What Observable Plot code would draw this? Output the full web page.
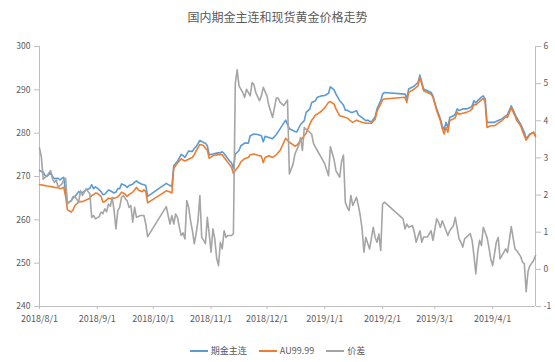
<!DOCTYPE html>
<html>
<head>
<meta charset="utf-8">
<script src="https://cdn.jsdelivr.net/npm/d3@7"></script>
<script src="https://cdn.jsdelivr.net/npm/@observablehq/plot@0.6"></script>
<style>
  html, body { margin: 0; padding: 0; background: #ffffff; }
  #wrap { width: 555px; height: 362px; position: relative; overflow: hidden; font-family: "Noto Sans CJK SC", sans-serif; }
  #title { height: 30px; box-sizing: border-box; padding-top: 9px; text-align: center; font-size: 12px; line-height: 16px; color: #595959; }
  #chart svg { display: block; }
  #legend { margin-top: 15px; height: 12px; display: flex; justify-content: center; align-items: center; font-size: 9px; line-height: 12px; color: #595959; }
  .item { display: flex; align-items: center; margin: 0 6px; }
  .sw { width: 18px; height: 2px; margin-right: 3px; }
</style>
</head>
<body>
<div id="wrap">
  <div id="title"></div>
  <div id="chart"></div>
  <div id="legend"></div>
</div>
<script>
const titleText = "国内期金主连和现货黄金价格走势";
const seriesNames = ["期金主连", "AU99.99", "价差"];
const seriesColors = ["#5B9BD5", "#ED7D31", "#A5A5A5"];

const monthTicks = ["2018-08-01","2018-09-01","2018-10-01","2018-11-01","2018-12-01","2019-01-01","2019-02-01","2019-03-01","2019-04-01"];
const leftTicks = [240, 250, 260, 270, 280, 290, 300];
const rightTicks = [-1, 0, 1, 2, 3, 4, 5, 6];
const xRange = ["2018-08-01", "2019-04-24"];

const priceDates = [
 "2018-08-01","2018-08-03","2018-08-04","2018-08-05","2018-08-07","2018-08-08","2018-08-09","2018-08-11","2018-08-12","2018-08-13","2018-08-14","2018-08-15","2018-08-16","2018-08-18","2018-08-19","2018-08-20","2018-08-22","2018-08-23","2018-08-24","2018-08-26","2018-08-28","2018-08-29","2018-08-30","2018-08-31",
 "2018-09-01","2018-09-03","2018-09-04","2018-09-05","2018-09-07","2018-09-08","2018-09-10","2018-09-11","2018-09-12","2018-09-13","2018-09-14","2018-09-16","2018-09-17","2018-09-18","2018-09-20","2018-09-21","2018-09-22","2018-09-23","2018-09-25","2018-09-26","2018-09-27","2018-09-28",
 "2018-10-08","2018-10-10","2018-10-11","2018-10-12","2018-10-14","2018-10-16","2018-10-17","2018-10-18","2018-10-20","2018-10-21","2018-10-22","2018-10-23","2018-10-24","2018-10-26","2018-10-27","2018-10-28","2018-10-29","2018-10-30","2018-10-31",
 "2018-11-02","2018-11-04","2018-11-06","2018-11-07","2018-11-08","2018-11-10","2018-11-12","2018-11-13","2018-11-14","2018-11-16","2018-11-17","2018-11-19","2018-11-21","2018-11-22","2018-11-24","2018-11-26","2018-11-28","2018-11-29","2018-11-30",
 "2018-12-02","2018-12-04","2018-12-06","2018-12-08","2018-12-11","2018-12-13","2018-12-16","2018-12-17","2018-12-19","2018-12-21","2018-12-22","2018-12-24","2018-12-25","2018-12-27","2018-12-28","2018-12-30",
 "2019-01-01","2019-01-03","2019-01-04","2019-01-06","2019-01-07","2019-01-09","2019-01-11","2019-01-12","2019-01-13","2019-01-15","2019-01-16","2019-01-18","2019-01-19","2019-01-21","2019-01-23","2019-01-24","2019-01-26","2019-01-28","2019-01-29","2019-01-31",
 "2019-02-01","2019-02-02","2019-02-13","2019-02-14","2019-02-15","2019-02-18","2019-02-20","2019-02-21","2019-02-23","2019-02-25","2019-02-27","2019-02-28",
 "2019-03-02","2019-03-04","2019-03-05","2019-03-06","2019-03-07","2019-03-08","2019-03-09","2019-03-11","2019-03-12","2019-03-13","2019-03-14","2019-03-16","2019-03-18","2019-03-20","2019-03-21","2019-03-22","2019-03-23","2019-03-24","2019-03-26","2019-03-27","2019-03-28","2019-03-29","2019-03-31",
 "2019-04-02","2019-04-04","2019-04-06","2019-04-08","2019-04-09","2019-04-11","2019-04-13","2019-04-14","2019-04-16","2019-04-18","2019-04-19","2019-04-21","2019-04-23","2019-04-24"
];

const futures = [
 271.4,271.0,270.2,270.0,270.9,270.0,269.5,269.6,269.2,269.6,269.8,266.2,263.9,264.4,265.0,265.4,266.5,266.2,266.3,266.9,267.3,268.1,267.2,267.6,
 267.3,266.5,265.8,265.9,266.9,266.7,266.2,266.4,267.2,267.2,268.3,267.9,267.5,267.9,268.2,268.7,269.0,268.6,268.2,268.1,267.9,265.4,
 268.4,267.9,267.7,272.5,273.5,275.1,274.8,274.4,275.9,275.8,275.8,276.5,276.9,278.3,278.1,277.8,277.7,277.1,275.0,
 275.2,275.4,275.5,275.7,275.3,274.1,273.1,271.8,275.2,276.0,277.1,277.7,277.7,279.4,279.8,279.7,279.4,278.0,279.3,
 279.0,278.7,279.7,281.0,283.0,281.0,280.4,280.3,282.0,282.9,284.8,285.6,287.1,287.5,288.3,288.6,
 288.7,289.2,290.7,290.0,289.0,287.5,286.5,285.3,285.3,284.8,284.8,285.2,284.2,283.6,282.9,283.0,282.6,283.8,285.6,287.5,
 289.0,289.4,289.0,288.0,290.2,290.9,291.7,293.4,290.2,289.8,289.4,288.6,
 285.6,283.3,281.7,280.8,282.5,281.3,283.6,284.0,284.4,285.6,285.2,285.6,285.6,285.9,286.3,287.5,287.0,287.5,288.3,288.6,287.9,282.5,282.5,
 282.5,282.9,283.3,284.0,284.3,286.3,284.4,283.5,282.1,280.2,278.7,279.8,280.2,279.4
];

const spot = [
 268.1,268.0,267.9,267.8,267.7,267.6,267.5,267.4,267.2,267.3,267.5,265.4,262.3,261.8,262.3,263.3,264.1,264.2,264.2,264.6,265.0,265.6,265.8,266.2,
 266.1,265.4,264.1,264.2,265.0,264.9,265.0,265.1,265.3,265.8,266.4,265.9,265.4,265.8,266.4,266.9,267.5,266.9,266.5,266.9,266.5,263.9,
 266.7,266.4,266.2,271.9,273.1,274.1,273.8,273.6,274.0,274.2,274.4,275.0,275.9,277.4,277.3,277.1,276.5,276.1,274.2,
 274.8,275.0,275.1,275.0,274.4,273.3,272.1,270.7,271.4,272.5,273.4,274.1,274.4,275.0,275.2,274.9,274.7,273.2,274.4,
 274.8,274.4,275.0,276.0,278.8,277.9,277.0,277.2,278.3,279.4,280.0,282.1,283.0,284.2,284.4,285.0,
 285.9,287.1,287.3,286.7,285.6,284.0,283.8,283.6,283.5,282.8,282.5,283.0,282.8,282.5,282.3,282.3,282.3,283.2,285.0,286.8,
 287.7,287.9,288.3,287.1,289.4,290.2,290.9,292.9,289.8,289.4,289.0,288.3,
 285.2,282.9,281.0,279.8,281.3,280.2,282.9,283.3,283.6,284.8,284.4,284.6,284.8,285.2,285.6,286.7,286.5,286.9,287.7,288.0,287.1,281.3,281.7,
 281.7,282.3,282.9,283.8,283.6,285.9,284.0,282.9,281.7,279.4,278.4,279.7,280.2,279.2
];

const spreadDates = [
 "2018-08-01","2018-08-02","2018-08-03","2018-08-05","2018-08-07","2018-08-08","2018-08-09","2018-08-10","2018-08-11","2018-08-13","2018-08-14","2018-08-15","2018-08-16","2018-08-18","2018-08-19","2018-08-20","2018-08-22","2018-08-23","2018-08-24","2018-08-25","2018-08-26","2018-08-27","2018-08-28","2018-08-29","2018-08-30","2018-08-31",
 "2018-09-02","2018-09-03","2018-09-04","2018-09-05","2018-09-06","2018-09-07","2018-09-08","2018-09-09","2018-09-10","2018-09-11","2018-09-12","2018-09-13","2018-09-14","2018-09-15","2018-09-16","2018-09-17","2018-09-18","2018-09-19","2018-09-20","2018-09-21","2018-09-22","2018-09-23","2018-09-24","2018-09-26","2018-09-27","2018-09-28",
 "2018-10-08","2018-10-10","2018-10-11","2018-10-12","2018-10-13","2018-10-14","2018-10-15","2018-10-16","2018-10-17","2018-10-18","2018-10-19","2018-10-20","2018-10-21","2018-10-22","2018-10-23","2018-10-24","2018-10-25","2018-10-26","2018-10-27","2018-10-28","2018-10-29","2018-10-30","2018-10-31",
 "2018-11-01","2018-11-02","2018-11-03","2018-11-04","2018-11-05","2018-11-06","2018-11-07","2018-11-08","2018-11-09","2018-11-10","2018-11-12","2018-11-13","2018-11-14","2018-11-15","2018-11-16","2018-11-18","2018-11-19","2018-11-20","2018-11-22","2018-11-23","2018-11-24","2018-11-25","2018-11-27","2018-11-28","2018-11-29",
 "2018-12-01","2018-12-02","2018-12-04","2018-12-06","2018-12-07","2018-12-08","2018-12-10","2018-12-12","2018-12-13","2018-12-15","2018-12-16","2018-12-18","2018-12-19","2018-12-20","2018-12-21","2018-12-22","2018-12-24","2018-12-25","2018-12-26","2018-12-28","2018-12-30",
 "2019-01-01","2019-01-03","2019-01-04","2019-01-06","2019-01-07","2019-01-09","2019-01-10","2019-01-11","2019-01-12","2019-01-13","2019-01-14","2019-01-15","2019-01-16","2019-01-18","2019-01-19","2019-01-20","2019-01-21","2019-01-22","2019-01-23","2019-01-25","2019-01-27","2019-01-28","2019-01-29","2019-01-30","2019-01-31",
 "2019-02-01","2019-02-02","2019-02-12","2019-02-13","2019-02-14","2019-02-15","2019-02-17","2019-02-18","2019-02-19","2019-02-21","2019-02-22","2019-02-23","2019-02-25","2019-02-27","2019-02-28",
 "2019-03-02","2019-03-03","2019-03-04","2019-03-05","2019-03-06","2019-03-08","2019-03-09","2019-03-11","2019-03-12","2019-03-14","2019-03-15","2019-03-16","2019-03-17","2019-03-18","2019-03-20","2019-03-21","2019-03-22","2019-03-23","2019-03-24","2019-03-25","2019-03-26","2019-03-27","2019-03-28","2019-03-29","2019-03-30","2019-03-31",
 "2019-04-01","2019-04-03","2019-04-04","2019-04-05","2019-04-06","2019-04-07","2019-04-08","2019-04-09","2019-04-11","2019-04-13","2019-04-14","2019-04-16","2019-04-17","2019-04-18","2019-04-19","2019-04-20","2019-04-21","2019-04-23","2019-04-24"
];

const spread = [
 3.27,3.02,2.43,2.52,2.66,2.43,2.34,2.41,2.21,2.30,2.41,2.45,1.76,1.85,1.96,1.96,1.81,2.12,1.99,2.07,2.17,2.10,2.03,1.40,1.45,1.36,
 1.42,1.54,1.50,1.63,1.55,1.76,1.70,1.94,1.58,1.09,1.58,1.67,1.94,1.99,1.90,1.85,1.67,1.72,1.27,1.67,1.40,1.42,1.45,1.45,1.22,0.88,
 1.69,1.22,1.45,1.22,1.49,1.40,1.13,0.91,0.98,0.82,1.85,1.67,1.31,1.04,0.69,0.96,1.31,1.99,0.86,0.78,0.69,1.40,0.96,
 0.46,1.09,0.82,0.30,0.10,0.73,0.55,1.04,0.86,0.91,0.91,0.96,5.00,5.37,4.94,4.76,4.63,4.85,4.67,5.03,4.97,4.76,4.54,4.67,4.90,
 4.67,4.41,4.09,4.61,4.61,4.50,4.41,4.56,2.57,2.84,3.11,3.33,3.55,3.20,3.82,3.77,3.69,3.63,3.38,3.20,3.02,
 2.84,2.52,3.30,2.95,2.65,2.48,2.90,3.08,1.81,1.67,1.58,1.99,1.72,1.94,1.72,1.45,1.09,0.46,0.86,0.55,1.13,0.86,0.73,0.95,0.51,
 1.76,1.81,1.36,1.09,1.22,1.13,1.18,1.00,0.73,1.04,0.73,0.87,0.87,1.04,0.78,
 1.36,1.27,1.13,1.31,1.18,0.91,1.04,1.18,1.40,0.82,0.73,0.60,0.82,0.87,0.96,0.78,0.37,-0.12,0.46,0.78,0.64,1.13,1.00,0.86,0.60,0.28,
 0.10,0.73,0.86,0.28,0.37,0.46,0.55,0.45,1.15,0.55,0.50,0.35,0.20,0.15,-0.60,-0.05,0.10,0.24,0.37
];

const parse = d3.utcParse("%Y-%m-%d");
const leftMin = leftTicks[0], leftMax = leftTicks[leftTicks.length - 1];
const rightMin = rightTicks[0], rightMax = rightTicks[rightTicks.length - 1];
// map secondary-axis values onto the primary y scale (dual axis)
const toLeft = v => leftMin + (v - rightMin) * (leftMax - leftMin) / (rightMax - rightMin);
const fromLeft = y => rightMin + (y - leftMin) * (rightMax - rightMin) / (leftMax - leftMin);

const priceRows = priceDates.map((d, i) => ({ date: parse(d), fut: futures[i], spot: spot[i] }));
const spreadRows = spreadDates.map((d, i) => ({ date: parse(d), v: toLeft(spread[i]) }));
const x0 = parse(xRange[0]), x1 = parse(xRange[1]);
const fmtDate = d => `${d.getUTCFullYear()}/${d.getUTCMonth() + 1}/${d.getUTCDate()}`;

document.getElementById("title").textContent = titleText;

const axisColor = "#BFBFBF";
const textColor = "#595959";

const chart = Plot.plot({
  width: 555,
  height: 300,
  marginLeft: 39,
  marginRight: 20,
  marginTop: 16,
  marginBottom: 24,
  style: { fontSize: "9px", fontFamily: "'Noto Sans CJK SC', sans-serif", color: textColor, background: "#ffffff" },
  x: { type: "utc", domain: [x0, x1] },
  y: { domain: [leftMin, leftMax] },
  marks: [
    Plot.ruleY([leftMin], { stroke: axisColor, strokeWidth: 1 }),
    Plot.ruleX([x0], { stroke: axisColor, strokeWidth: 1 }),
    Plot.ruleX([x1], { stroke: axisColor, strokeWidth: 1 }),
    Plot.axisY(leftTicks, { anchor: "left", tickSize: 5, tickPadding: 4, stroke: axisColor, fill: textColor, label: null, fontSize: 8.5 }),
    Plot.axisY(rightTicks.map(toLeft), { anchor: "right", tickSize: 5, tickPadding: 3, stroke: axisColor, fill: textColor, label: null, fontSize: 8.5,
      tickFormat: v => String(Math.round(fromLeft(v))) }),
    Plot.axisX(monthTicks.map(parse), { anchor: "bottom", tickSize: 3, tickPadding: 6, stroke: axisColor, fill: textColor, label: null,
      tickFormat: fmtDate }),
    Plot.lineY(priceRows, { x: "date", y: "fut", stroke: seriesColors[0], strokeWidth: 1.6 }),
    Plot.lineY(priceRows, { x: "date", y: "spot", stroke: seriesColors[1], strokeWidth: 1.6 }),
    Plot.lineY(spreadRows, { x: "date", y: "v", stroke: seriesColors[2], strokeWidth: 1.6 })
  ]
});
document.getElementById("chart").appendChild(chart);

const legend = document.getElementById("legend");
seriesNames.forEach((name, i) => {
  const item = document.createElement("div");
  item.className = "item";
  const sw = document.createElement("div");
  sw.className = "sw";
  sw.style.background = seriesColors[i];
  const t = document.createElement("span");
  t.textContent = name;
  item.appendChild(sw);
  item.appendChild(t);
  legend.appendChild(item);
});
</script>
</body>
</html>
